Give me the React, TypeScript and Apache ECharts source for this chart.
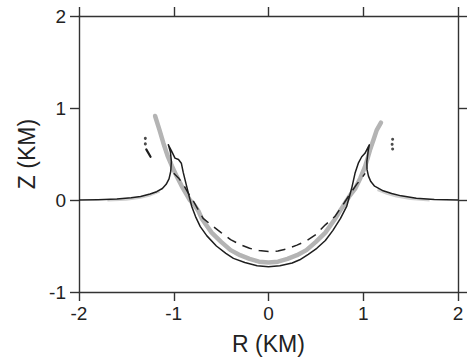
import React, { useEffect, useRef } from "react";
import * as echarts from "echarts";

// Black solid profile (outer flat -> left spike -> crater -> right spike -> flat)
const blackProfile: [number, number][] = [
  [-2, 0], [-1.8, 0.004], [-1.6, 0.012], [-1.45, 0.024], [-1.35, 0.038], [-1.25, 0.065],
  [-1.18, 0.09], [-1.12, 0.125], [-1.08, 0.17], [-1.05, 0.23], [-1.032, 0.31], [-1.025, 0.42],
  [-1.035, 0.52], [-1.057, 0.6], [-1.02, 0.525], [-0.987, 0.455], [-0.95, 0.44], [-0.92, 0.4],
  [-0.9, 0.3], [-0.863, 0.145], [-0.83, 0.01], [-0.81, -0.07], [-0.77, -0.18], [-0.72, -0.29],
  [-0.65, -0.39], [-0.55, -0.5], [-0.45, -0.58], [-0.37, -0.635], [-0.25, -0.68], [-0.12, -0.715],
  [0, -0.725], [0.12, -0.715], [0.25, -0.685], [0.33, -0.65], [0.42, -0.59], [0.51, -0.525],
  [0.6, -0.44], [0.68, -0.33], [0.76, -0.2], [0.825, -0.07], [0.878, 0.127], [0.913, 0.29],
  [0.948, 0.4], [0.984, 0.47], [1.018, 0.507], [1.064, 0.6], [1.053, 0.54], [1.038, 0.42],
  [1.04, 0.33], [1.055, 0.26], [1.08, 0.2], [1.12, 0.15], [1.21, 0.1], [1.3, 0.07],
  [1.4, 0.045], [1.56, 0.018], [1.75, 0.006], [2, 0],
];

// Grey thick crater wall
const greyCrater: [number, number][] = [
  [-1.197, 0.913], [-1.15, 0.76], [-1.11, 0.62], [-1.065, 0.48], [-1.02, 0.37], [-0.97, 0.26],
  [-0.92, 0.16], [-0.87, 0.07], [-0.83, 0.0], [-0.78, -0.06], [-0.74, -0.12], [-0.7, -0.21],
  [-0.6, -0.355], [-0.5, -0.455], [-0.4, -0.545], [-0.3, -0.6], [-0.2, -0.64], [-0.1, -0.67],
  [0, -0.68], [0.1, -0.67], [0.2, -0.64], [0.3, -0.6], [0.4, -0.545], [0.5, -0.455],
  [0.6, -0.355], [0.7, -0.21], [0.76, -0.11], [0.81, -0.03], [0.86, 0.05], [0.913, 0.12],
  [0.97, 0.24], [1.018, 0.36], [1.045, 0.45], [1.07, 0.54], [1.11, 0.66], [1.142, 0.76],
  [1.187, 0.84],
];

// Grey traces under the flat outer parts
const greyFlatLeft: [number, number][] = [
  [-1.7, -0.004], [-1.5, 0.006], [-1.35, 0.026], [-1.25, 0.052], [-1.15, 0.095],
];
const greyFlatRight: [number, number][] = [
  [1.15, 0.11], [1.25, 0.07], [1.35, 0.04], [1.5, 0.014], [1.7, -0.002],
];

// Dashed crater profile
const dashedProfile: [number, number][] = [
  [-1.0, 0.29], [-0.95, 0.24], [-0.9, 0.17], [-0.85, 0.08], [-0.8, 0.0], [-0.75, -0.09],
  [-0.69, -0.2], [-0.6, -0.275], [-0.5, -0.355], [-0.4, -0.43], [-0.3, -0.485], [-0.2, -0.525],
  [-0.1, -0.55], [0, -0.56], [0.1, -0.555], [0.2, -0.53], [0.3, -0.49], [0.4, -0.445],
  [0.5, -0.375], [0.6, -0.27], [0.7, -0.18], [0.8, -0.03], [0.87, 0.08], [0.93, 0.17],
  [0.97, 0.22], [1.02, 0.29],
];

// Isolated dots / short marks
const dots: [number, number][] = [
  [-1.3, 0.67], [-1.3, 0.61], [1.31, 0.66], [1.305, 0.605], [1.31, 0.555],
];
const leftMark: [number, number][] = [[-1.29, 0.55], [-1.245, 0.47]];

const xTicks = { min: -2, max: 2, interval: 1 };
const yTicks = { min: -1, max: 2, interval: 1 };

export default function App() {
  const ref = useRef<HTMLDivElement>(null);
  useEffect(() => {
    if (!ref.current) return;
    const chart = echarts.init(ref.current, null, { renderer: "svg" });
    const axisColor = "#333";
    const font = "Liberation Sans, Arial, sans-serif";
    const baseAxis = {
      axisLine: { show: true, onZero: false, lineStyle: { color: axisColor, width: 1.4 } },
      axisTick: { show: true, inside: false, length: 9, lineStyle: { color: axisColor, width: 1.4 } },
      splitLine: { show: false },
    };
    chart.setOption({
      animation: false,
      backgroundColor: "#fff",
      grid: { left: 79, right: 11, top: 16, bottom: 70, containLabel: false },
      xAxis: [
        {
          type: "value", position: "bottom", ...xTicks, ...baseAxis,
          axisLabel: { show: true, color: "#222", fontSize: 19, fontFamily: font, margin: 12 },
          name: "R (KM)", nameLocation: "middle", nameGap: 40,
          nameTextStyle: { color: "#222", fontSize: 23, fontFamily: font },
        },
        {
          type: "value", position: "top", ...xTicks, ...baseAxis,
          axisLabel: { show: false },
        },
      ],
      yAxis: [
        {
          type: "value", position: "left", ...yTicks, ...baseAxis,
          axisLabel: { show: true, color: "#222", fontSize: 19, fontFamily: font, margin: 13 },
          name: "Z (KM)", nameLocation: "middle", nameGap: 40,
          nameTextStyle: { color: "#222", fontSize: 23, fontFamily: font },
        },
        {
          type: "value", position: "right", ...yTicks, ...baseAxis,
          axisLabel: { show: false },
        },
      ],
      series: [
        {
          type: "line", data: greyCrater, showSymbol: false, silent: true,
          lineStyle: { color: "#b4b4b4", width: 4.5, cap: "round", join: "round" },
        },
        {
          type: "line", data: greyFlatLeft, showSymbol: false, silent: true,
          lineStyle: { color: "#d0d0d0", width: 2.5 },
        },
        {
          type: "line", data: greyFlatRight, showSymbol: false, silent: true,
          lineStyle: { color: "#d0d0d0", width: 2.5 },
        },
        {
          type: "line", data: dashedProfile, showSymbol: false, silent: true,
          lineStyle: { color: "#222", width: 1.5, type: [10, 7] },
        },
        {
          type: "line", data: blackProfile, showSymbol: false, silent: true,
          lineStyle: { color: "#1e1e1e", width: 1.5, join: "round" },
        },
        {
          type: "line", data: leftMark, showSymbol: false, silent: true,
          lineStyle: { color: "#1e1e1e", width: 2.2, cap: "round" },
        },
        {
          type: "scatter", data: dots, symbol: "circle", symbolSize: 3, silent: true,
          itemStyle: { color: "#1e1e1e" },
        },
      ],
    });
    return () => chart.dispose();
  }, []);
  return (
    <div
      ref={ref}
      style={{ position: "absolute", left: 0, top: 0, width: 469, height: 362 }}
    />
  );
}
